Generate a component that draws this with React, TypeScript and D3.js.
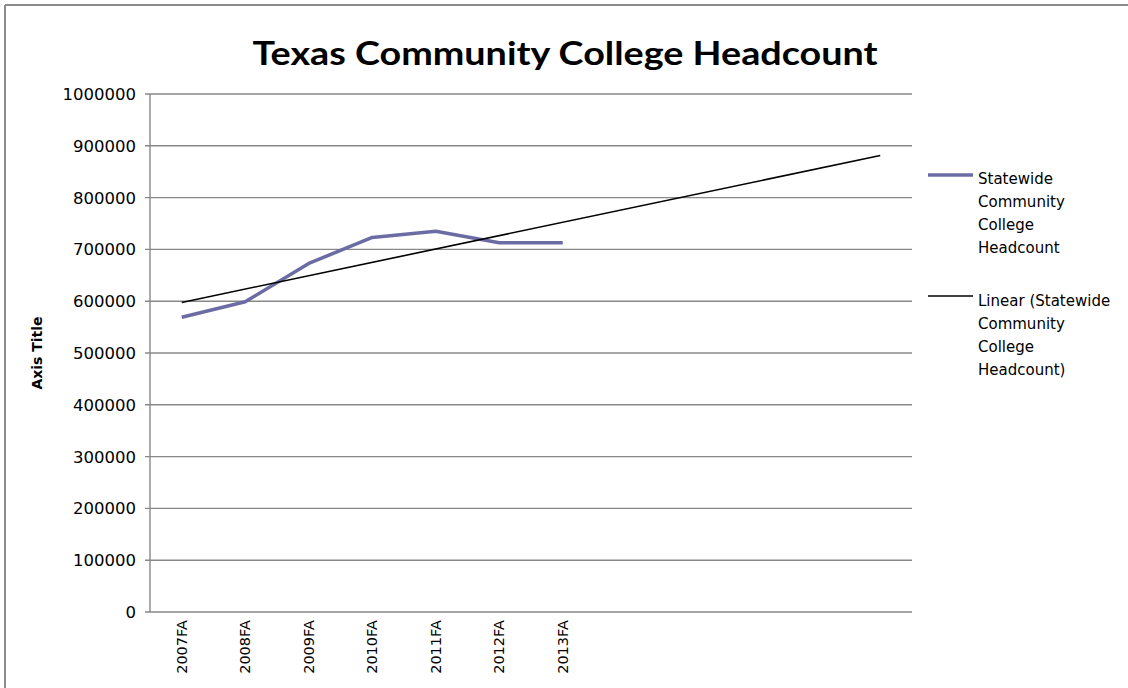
import React from "react";
import * as d3 from "d3";

// categories and values
const terms = ["2007FA", "2008FA", "2009FA", "2010FA", "2011FA", "2012FA", "2013FA"];
const headcount = [569000, 599000, 673000, 723000, 735000, 713000, 713000];
const forwardPeriods = 5; // trendline forecast beyond last term
const yTicks = [0, 100000, 200000, 300000, 400000, 500000, 600000, 700000, 800000, 900000, 1000000];
const legendSeries = ["Statewide", "Community", "College", "Headcount"];
const legendTrend = ["Linear (Statewide", "Community", "College", "Headcount)"];

const seriesColor = "#6c6ca4";
const gridColor = "#888888";
const font = "'DejaVu Sans', sans-serif";

const App: React.FC = () => {
  const svgRef = React.useRef<SVGSVGElement | null>(null);

  React.useEffect(() => {
    if (!svgRef.current) return;
    const svg = d3.select(svgRef.current);
    svg.selectAll("*").remove();

    const width = 1128;
    const height = 688;
    const plot = { left: 150, right: 912, top: 94, bottom: 612 };
    const nCat = terms.length + forwardPeriods;

    svg.attr("width", width).attr("height", height);

    // chart border (top and left visible)
    svg.append("line").attr("x1", 5).attr("x2", width).attr("y1", 5).attr("y2", 5)
      .attr("stroke", "#8c8c8c").attr("stroke-width", 2);
    svg.append("line").attr("x1", 5).attr("x2", 5).attr("y1", 5).attr("y2", height)
      .attr("stroke", "#8c8c8c").attr("stroke-width", 2);

    const x = d3.scaleLinear().domain([0.5, nCat + 0.5]).range([plot.left, plot.right]);
    const y = d3.scaleLinear().domain([0, 1000000]).range([plot.bottom, plot.top]);

    // title
    svg.append("text")
      .attr("x", 565).attr("y", 65)
      .attr("text-anchor", "middle")
      .attr("font-family", "Lato, 'Open Sans', sans-serif").attr("font-weight", "bold").attr("font-size", 33)
      .attr("textLength", 625).attr("lengthAdjust", "spacingAndGlyphs")
      .text("Texas Community College Headcount");

    // gridlines
    svg.append("g").selectAll("line").data(yTicks).join("line")
      .attr("x1", plot.left - 5).attr("x2", plot.right)
      .attr("y1", (d) => y(d)).attr("y2", (d) => y(d))
      .attr("stroke", gridColor).attr("stroke-width", 1.4);

    // y axis line
    svg.append("line")
      .attr("x1", plot.left).attr("x2", plot.left)
      .attr("y1", plot.top).attr("y2", plot.bottom)
      .attr("stroke", gridColor).attr("stroke-width", 1.4);

    // y tick labels
    svg.append("g").selectAll("text").data(yTicks).join("text")
      .attr("x", 136).attr("y", (d) => y(d) + 6)
      .attr("text-anchor", "end")
      .attr("font-family", font).attr("font-size", 16.5)
      .text((d) => `${d}`);

    // axis title
    svg.append("text")
      .attr("transform", `translate(42, ${(plot.top + plot.bottom) / 2}) rotate(-90)`)
      .attr("text-anchor", "middle")
      .attr("font-family", font).attr("font-weight", "bold").attr("font-size", 14)
      .text("Axis Title");

    // x labels
    svg.append("g").selectAll("text").data(terms).join("text")
      .attr("transform", (_, i) => `translate(${x(i + 1) + 5}, 620) rotate(-90)`)
      .attr("text-anchor", "end")
      .attr("font-family", font).attr("font-size", 14.5)
      .text((d) => d);

    // series line
    const line = d3.line<number>()
      .x((_, i) => x(i + 1))
      .y((d) => y(d));
    svg.append("path")
      .datum(headcount)
      .attr("d", line)
      .attr("fill", "none")
      .attr("stroke", seriesColor)
      .attr("stroke-width", 3.5)
      .attr("stroke-linejoin", "round");

    // linear trendline (least squares), extended forward
    const xs = headcount.map((_, i) => i + 1);
    const mx = d3.mean(xs) as number;
    const my = d3.mean(headcount) as number;
    const slope =
      d3.sum(xs, (xi, i) => (xi - mx) * (headcount[i] - my)) /
      d3.sum(xs, (xi) => (xi - mx) * (xi - mx));
    const intercept = my - slope * mx;
    const trendPts = [1, nCat].map((t) => [x(t), y(intercept + slope * t)] as [number, number]);
    svg.append("path")
      .attr("d", d3.line()(trendPts))
      .attr("stroke", "#000")
      .attr("stroke-width", 1.6)
      .attr("fill", "none");

    // legend
    const lg = svg.append("g");
    lg.append("line").attr("x1", 928).attr("x2", 973).attr("y1", 175).attr("y2", 175)
      .attr("stroke", seriesColor).attr("stroke-width", 3.5);
    lg.append("g").selectAll("text").data(legendSeries).join("text")
      .attr("x", 978).attr("y", (_, i) => 184 + i * 23)
      .attr("font-family", font).attr("font-size", 15)
      .text((d) => d);
    lg.append("line").attr("x1", 928).attr("x2", 973).attr("y1", 296).attr("y2", 296)
      .attr("stroke", "#000").attr("stroke-width", 1.6);
    lg.append("g").selectAll("text").data(legendTrend).join("text")
      .attr("x", 978).attr("y", (_, i) => 306 + i * 23)
      .attr("font-family", font).attr("font-size", 15)
      .text((d) => d);
  }, []);

  return (
    <svg
      ref={svgRef}
      style={{ position: "absolute", left: 0, top: 0, background: "#fff" }}
    ></svg>
  );
};

export default App;
